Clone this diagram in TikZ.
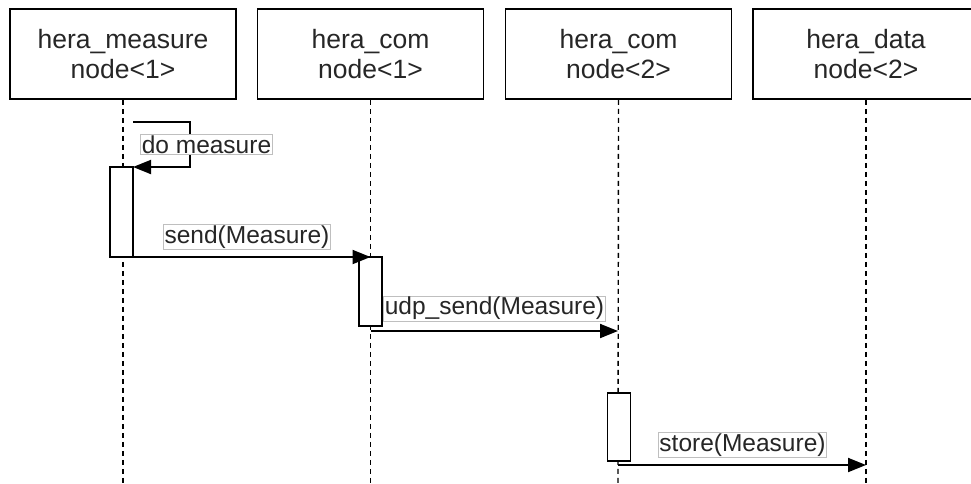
\documentclass[tikz,border=0pt]{standalone}
\usepackage{fontspec}
\setmainfont{Liberation Sans}
\usetikzlibrary{arrows.meta}
\begin{document}
\begin{tikzpicture}[x=1pt,y=-1pt,
  part/.style={draw, line width=1.6pt, minimum width=226pt, minimum height=90pt, align=center, font=\fontsize{26.5}{30}\selectfont, inner sep=0pt, text=black!85},
  life/.style={dash pattern=on 5pt off 4pt, line width=1.4pt},
  act/.style={draw, line width=1.5pt, fill=white, minimum width=23pt, inner sep=0pt, outer sep=0pt},
  msg/.style={line width=1.9pt, -{Triangle[length=18pt,width=14pt]}},
  lbl/.style={draw=black!25, line width=0.8pt, fill=white, font=\fontsize{24.5}{28}\selectfont, inner sep=1pt, text=black!85}
]
\useasboundingbox (0,0) rectangle (971,483);
% participants
\node[part] (p1) at (123,54) {hera\_measure\\node<1>};
\node[part] (p2) at (370.5,54) {hera\_com\\node<1>};
\node[part] (p3) at (618.5,54) {hera\_com\\node<2>};
\node[part] (p4) at (866,54) {hera\_data\\node<2>};
% lifeline ends
\coordinate (l1) at (123,490);
\coordinate (l2) at (370.5,490);
\coordinate (l3) at (618,490);
\coordinate (l4) at (866,490);
\draw[life] (p1.south) -- (l1);
\draw[life] (p2.south) -- (l2);
\draw[life] (p3.south) -- (l3);
\draw[life] (p4.south) -- (l4);
% activations
\node[act, minimum height=90pt] (a1) at (121.5,212) {};
\node[act, minimum height=69pt] (a2) at (370.5,291.5) {};
\node[act, minimum height=68pt] (a3) at (619,427) {};
% self message
\draw[msg] (a1.north east) ++(0,-45) -- ++(57,0) -- ++(0,45) -- (a1.north east);
\node[lbl] (t1) at (206.5,144.5) {do measure};
% send
\draw[msg] (a1.south east) -- (a1.south east -| a2.north);
\node[lbl] (t2) at (247,237) {send(Measure)};
% udp_send
\coordinate (u1) at (370.5,331);
\coordinate (u2) at (618,331);
\draw[msg] (u1) -- (u2);
\node[lbl] (t3) at (494.5,308.5) {udp\_send(Measure)};
% store
\coordinate (s1) at (618,465);
\coordinate (s2) at (866,465);
\draw[msg] (s1) -- (s2);
\node[lbl] (t4) at (742.5,445) {store(Measure)};
\end{tikzpicture}
\end{document}
